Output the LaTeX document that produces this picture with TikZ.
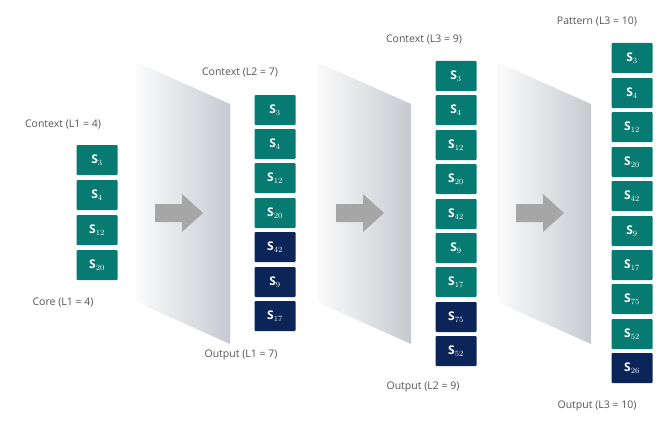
\documentclass[tikz,border=0pt]{standalone}
\usepackage{fontspec}
\setmainfont{Open Sans}
\begin{document}
\begin{tikzpicture}[x=1pt,y=-1pt,
  box/.style={minimum width=41pt,minimum height=30pt,inner sep=0pt,rounded corners=1pt,text=white,font=\fontsize{12}{12}\selectfont\bfseries},
  ctxbox/.style={box,fill=teal0},
  outbox/.style={box,fill=navy0},
  lbl/.style={text=gray0,font=\fontsize{10.5}{12}\selectfont}]
\definecolor{teal0}{HTML}{077A72}
\definecolor{navy0}{HTML}{0B2559}
\definecolor{gray0}{HTML}{555555}
\definecolor{panelR}{HTML}{C6CAD0}
\definecolor{arrowc}{HTML}{A6A6A6}
\useasboundingbox (0,0) rectangle (661,436);
\newcommand{\panel}[1]{%
  \shade[left color=white!97!gray,right color=panelR] (#1,62) -- (#1+94,104) -- (#1+94,344) -- (#1,302) -- cycle;
  \fill[arrowc] (#1+19,204) -- (#1+46,204) -- (#1+46,194) -- (#1+67,213) -- (#1+46,232) -- (#1+46,222) -- (#1+19,222) -- cycle;}
\panel{136}\panel{317}\panel{497}
% column 1
\node[lbl] (c1) at (63,125) {Context (L1 = 4)};
\foreach \s/\y [count=\i] in {3/160,4/195,12/230,20/265}
  \node[ctxbox] (a\i) at (97,\y) {S$_{\s}$};
\node[lbl] (k1) at (63,303) {Core (L1 = 4)};
% column 2
\node[lbl] (c2) at (240,73) {Context (L2 = 7)};
\foreach \s/\y [count=\i] in {3/110,4/144,12/178,20/213}
  \node[ctxbox] (b\i) at (275,\y) {S$_{\s}$};
\foreach \s/\y [count=\i from 5] in {42/247,9/282,17/316}
  \node[outbox] (b\i) at (275,\y) {S$_{\s}$};
\node[lbl] (o2) at (241,355) {Output (L1 = 7)};
% column 3
\node[lbl] (c3) at (424,40) {Context (L3 = 9)};
\foreach \s/\y [count=\i] in {3/76,4/110,12/145,20/179,42/214,9/248,17/282}
  \node[ctxbox] (d\i) at (456,\y) {S$_{\s}$};
\foreach \s/\y [count=\i from 8] in {75/317,52/351}
  \node[outbox] (d\i) at (456,\y) {S$_{\s}$};
\node[lbl] (o3) at (423,387) {Output (L2 = 9)};
% column 4
\node[lbl] (c4) at (597,22) {Pattern (L3 = 10)};
\foreach \s/\y [count=\i] in {3/58,4/93,12/127,20/162,42/196,9/231,17/265,75/299,52/334}
  \node[ctxbox] (e\i) at (632,\y) {S$_{\s}$};
\node[outbox] (e10) at (632,368) {S$_{26}$};
\node[lbl] (o4) at (597,406) {Output (L3 = 10)};
\end{tikzpicture}
\end{document}
